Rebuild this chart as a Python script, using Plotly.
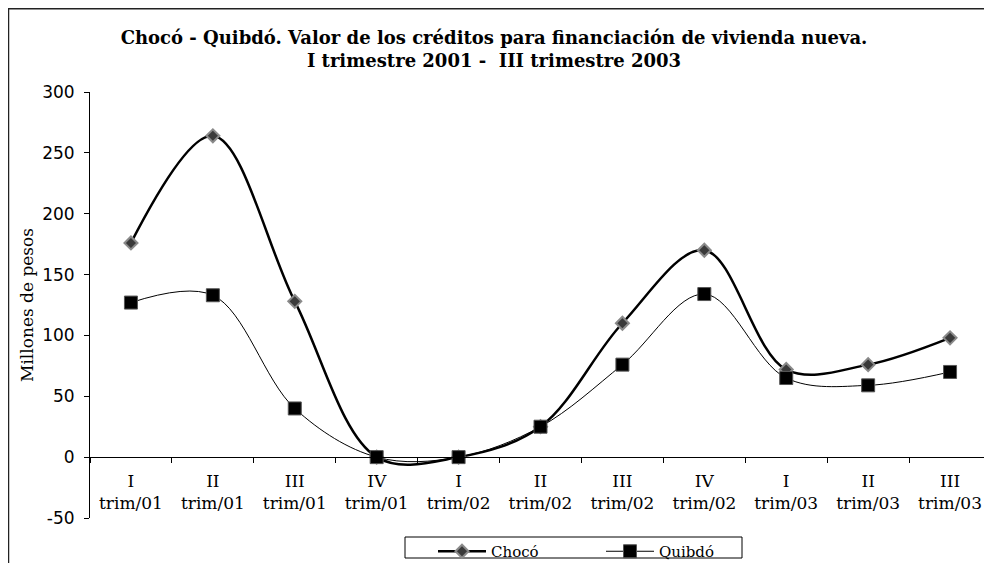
import plotly.graph_objects as go

categories = ['I<br>trim/01', 'II<br>trim/01', 'III<br>trim/01', 'IV<br>trim/01',
              'I<br>trim/02', 'II<br>trim/02', 'III<br>trim/02', 'IV<br>trim/02',
              'I<br>trim/03', 'II<br>trim/03', 'III<br>trim/03']
choco = [176, 264, 128, 0, 0, 25, 110, 170, 72, 76, 98]
quibdo = [127, 133, 40, 0, 0, 25, 76, 134, 65, 59, 70]
y_ticks = [-50, 0, 50, 100, 150, 200, 250, 300]
y_tick_labels = ['-50', '0', '50', '100', '150', '200', '250', '300']

serif = 'DejaVu Serif'
sans = 'DejaVu Sans'

W, H = 992, 563
OFF = 8  # page body margin in the browser
# plot area in window pixels
PL, PR, PT, PB = 90, 991, 92, 518
L, T = PL - OFF, PT - OFF
R, B = W - (PR - OFF), H - (PB - OFF)
pw, ph = W - L - R, H - T - B


def px(x):
    return (x - OFF - L) / pw


def py(y):
    return (H - B - (y - OFF)) / ph


fig = go.Figure()
fig.add_trace(go.Scatter(
    x=categories, y=choco, name='Chocó', mode='lines+markers',
    line=dict(color='black', width=2.5, shape='spline', smoothing=1),
    marker=dict(symbol='diamond', size=10, color='#3a3a3a',
                line=dict(color='#8a8a8a', width=2))))
fig.add_trace(go.Scatter(
    x=categories, y=quibdo, name='Quibdó', mode='lines+markers',
    line=dict(color='black', width=1, shape='spline', smoothing=1),
    marker=dict(symbol='square', size=13, color='black',
                line=dict(color='#555555', width=1))))

y_min, y_max = -50, 300
zero_pos = (0 - y_min) / (y_max - y_min)

fig.update_layout(
    width=W, height=H,
    margin=dict(l=L, r=R, t=T, b=B, autoexpand=False),
    paper_bgcolor='white', plot_bgcolor='white',
    title=dict(
        text='Chocó - Quibdó. Valor de los créditos para financiación de vivienda nueva.'
             '<br>I trimestre 2001 -  III trimestre 2003',
        font=dict(family=serif, size=18, color='black', weight='bold'),
        x=(494 - OFF) / W, xanchor='center', xref='container',
        y=1 - 36 / H, yanchor='top', yref='container'),
    showlegend=True,
    legend=dict(orientation='h', x=px(433), xanchor='left', y=py(535), yanchor='top',
                borderwidth=0, bgcolor='rgba(0,0,0,0)',
                font=dict(family=serif, size=15, color='black'),
                itemwidth=48, entrywidth=105, tracegroupgap=0),
    shapes=[
        dict(type='line', xref='paper', yref='paper', x0=px(8), x1=px(W + 20),
             y0=py(8.5), y1=py(8.5), line=dict(color='#222222', width=2)),
        dict(type='line', xref='paper', yref='paper', x0=px(8.5), x1=px(8.5),
             y0=py(8), y1=py(H + 20), line=dict(color='#222222', width=1.5)),
        dict(type='rect', xref='paper', yref='paper', x0=px(405), x1=px(742),
             y0=py(537), y1=py(558), line=dict(color='black', width=1)),
    ],
)

fig.update_xaxes(
    type='category', anchor='free', position=zero_pos,
    range=[-0.5, len(categories) - 0.5],
    showline=True, linecolor='black', linewidth=1,
    ticks='outside', tickson='boundaries', ticklen=5, tickcolor='black',
    showgrid=False, zeroline=False,
    tickfont=dict(family=serif, size=17, color='black'),
    ticklabelstandoff=8)

fig.update_yaxes(
    range=[y_min, y_max], tickvals=y_ticks, ticktext=y_tick_labels,
    showline=True, linecolor='black', linewidth=1,
    ticks='outside', ticklen=5, tickcolor='black',
    showgrid=False, zeroline=False,
    tickfont=dict(family=sans, size=17, color='black'),
    ticklabelstandoff=6,
    title=dict(text='Millones de pesos', font=dict(family=serif, size=17, color='black'),
               standoff=4))

fig.write_html('out.html')
